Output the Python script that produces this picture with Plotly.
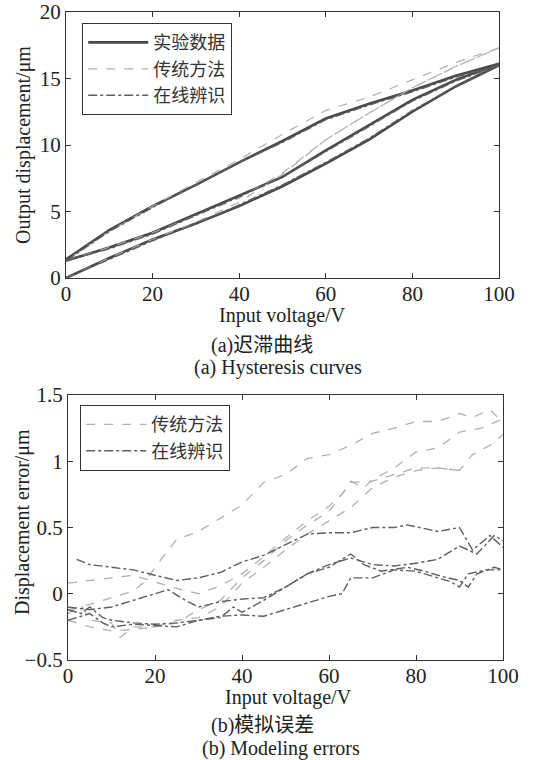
import plotly.graph_objects as go

# ---------------- data: (a) hysteresis curves ----------------
volt_up = [0, 10, 20, 30, 40, 50, 60, 70, 80, 90, 100]
volt_down = [100, 90, 80, 70, 60, 50, 40, 30, 20, 10, 0]

exp_init = [0.0, 1.5, 2.9, 4.1, 5.4, 6.9, 8.6, 10.4, 12.5, 14.4, 16.0]
exp_desc = [16.1, 15.2, 14.1, 13.1, 12.0, 10.3, 8.7, 7.0, 5.4, 3.6, 1.4]
exp_asc = [1.3, 2.3, 3.4, 4.8, 6.2, 7.6, 9.6, 11.5, 13.4, 14.9, 16.1]

trad_init = [0.0, 1.5, 2.9, 4.2, 5.7, 7.8, 10.4, 12.4, 14.3, 15.9, 17.3]
trad_desc = [17.3, 16.2, 14.9, 13.6, 12.6, 10.8, 8.9, 7.2, 5.4, 3.5, 1.3]
trad_asc = [1.3, 2.3, 3.4, 4.7, 6.0, 7.9, 10.4, 12.4, 14.3, 15.9, 17.3]

onl_init = [0.0, 1.4, 2.8, 4.1, 5.5, 7.0, 8.7, 10.5, 12.6, 14.4, 16.0]
onl_desc = [16.0, 15.1, 14.0, 13.0, 11.9, 10.2, 8.7, 7.0, 5.3, 3.5, 1.3]
onl_asc = [1.3, 2.2, 3.3, 4.7, 6.1, 7.6, 9.5, 11.4, 13.3, 14.8, 16.0]

# ---------------- data: (b) modeling errors ----------------
trad_v1 = [0, 5, 10, 15, 18, 20, 25, 30, 35, 40, 45, 50, 55, 60, 65, 70, 75, 80, 85, 90, 93, 97, 100]
trad_e1 = [-0.12, -0.08, -0.03, 0.02, 0.1, 0.2, 0.41, 0.47, 0.57, 0.67, 0.84, 0.9, 1.02, 1.05, 1.12, 1.21, 1.25, 1.30, 1.30, 1.36, 1.33, 1.39, 1.29]
trad_v2 = [0, 5, 10, 15, 20, 25, 30, 35, 40, 45, 50, 55, 60, 63, 65, 68, 70, 75, 80, 85, 90, 95, 100]
trad_e2 = [0.08, 0.1, 0.12, 0.14, 0.09, 0.04, 0.0, 0.06, 0.15, 0.28, 0.42, 0.55, 0.66, 0.75, 0.85, 0.8, 0.86, 0.95, 1.07, 1.1, 1.22, 1.25, 1.32]
trad_v3 = [0, 3, 5, 10, 12, 15, 20, 25, 30, 35, 40, 45, 50, 55, 60, 65, 70, 75, 80, 85, 90, 93, 97, 100]
trad_e3 = [-0.15, -0.08, -0.2, -0.22, -0.33, -0.25, -0.25, -0.22, -0.12, -0.05, 0.12, 0.25, 0.4, 0.52, 0.62, 0.84, 0.85, 0.9, 0.95, 0.95, 0.93, 1.05, 1.12, 1.2]
trad_v4 = [0, 5, 10, 15, 20, 25, 30, 35, 40, 45, 50, 55, 60, 65, 70, 75, 80, 85, 90]
trad_e4 = [-0.2, -0.25, -0.28, -0.27, -0.25, -0.2, -0.18, -0.1, 0.08, 0.2, 0.33, 0.45, 0.55, 0.65, 0.8, 0.88, 0.93, 0.95, 0.93]

onl_v1 = [2, 5, 10, 15, 20, 25, 30, 35, 40, 45, 50, 55, 60, 65, 70, 75, 78, 85, 90, 93, 97, 100]
onl_e1 = [0.26, 0.22, 0.2, 0.18, 0.14, 0.1, 0.12, 0.16, 0.24, 0.29, 0.37, 0.45, 0.46, 0.46, 0.5, 0.5, 0.52, 0.47, 0.5, 0.33, 0.44, 0.35]
onl_v2 = [0, 5, 10, 15, 20, 23, 27, 30, 35, 40, 45, 50, 55, 60, 65, 70, 75, 80, 85, 90, 94, 98, 100]
onl_e2 = [-0.1, -0.12, -0.1, -0.05, 0.0, 0.03, -0.05, -0.1, -0.06, -0.04, -0.03, 0.05, 0.15, 0.22, 0.27, 0.22, 0.21, 0.23, 0.26, 0.36, 0.3, 0.44, 0.4]
onl_v3 = [0, 3, 5, 8, 10, 15, 20, 25, 30, 35, 40, 45, 50, 55, 60, 63, 65, 70, 75, 80, 85, 88, 90, 92, 96, 100]
onl_e3 = [-0.12, -0.15, -0.1, -0.18, -0.2, -0.22, -0.23, -0.22, -0.2, -0.17, -0.16, -0.17, -0.12, -0.07, -0.02, 0.0, 0.12, 0.12, 0.18, 0.17, 0.12, 0.09, 0.05, 0.15, 0.18, 0.18]
onl_v4 = [0, 5, 8, 10, 15, 20, 25, 30, 35, 38, 40, 45, 50, 55, 60, 65, 68, 72, 78, 82, 86, 90, 92, 94, 98, 100]
onl_e4 = [-0.2, -0.15, -0.22, -0.25, -0.23, -0.24, -0.25, -0.2, -0.18, -0.1, -0.14, -0.05, 0.05, 0.15, 0.2, 0.3, 0.22, 0.17, 0.2, 0.17, 0.13, 0.1, 0.05, 0.15, 0.2, 0.18]

legend_a = ["实验数据", "传统方法", "在线辨识"]
x_title = "Input voltage/V"
y_titles = ["Output displacement/μm", "Displacement error/μm"]
captions = ["(a)迟滞曲线", "(a) Hysteresis curves", "(b)模拟误差", "(b) Modeling errors"]

SERIF = "Liberation Serif, Times New Roman, Noto Sans CJK SC, serif"
LEG_FONT = "Noto Sans CJK SC, Liberation Serif"

def join(*parts):
    xs, ys = [], []
    for px, py in parts:
        if xs:
            xs.append(None); ys.append(None)
        xs += list(px); ys += list(py)
    return xs, ys

fig = go.Figure()

C_EXP = "#4a4a4a"
C_TRAD = "#b0b0b0"
C_ONL = "#5e5e5e"

# (a)
x, y = join((volt_up, exp_init), (volt_down, exp_desc), (volt_up, exp_asc))
fig.add_trace(go.Scatter(x=x, y=y, mode="lines", name=legend_a[0],
                         line=dict(color=C_EXP, width=2.6), xaxis="x", yaxis="y", legend="legend"))
x, y = join((volt_up, trad_init), (volt_down, trad_desc), (volt_up, trad_asc))
fig.add_trace(go.Scatter(x=x, y=y, mode="lines", name=legend_a[1],
                         line=dict(color=C_TRAD, width=1.2, dash="dash"), xaxis="x", yaxis="y", legend="legend"))
x, y = join((volt_up, onl_init), (volt_down, onl_desc), (volt_up, onl_asc))
fig.add_trace(go.Scatter(x=x, y=y, mode="lines", name=legend_a[2],
                         line=dict(color=C_ONL, width=1.4, dash="dashdot"), xaxis="x", yaxis="y", legend="legend"))

# (b)
x, y = join((trad_v1, trad_e1), (trad_v2, trad_e2), (trad_v3, trad_e3), (trad_v4, trad_e4))
fig.add_trace(go.Scatter(x=x, y=y, mode="lines", name=legend_a[1],
                         line=dict(color=C_TRAD, width=1.3, dash="dash"), xaxis="x2", yaxis="y2", legend="legend2"))
x, y = join((onl_v1, onl_e1), (onl_v2, onl_e2), (onl_v3, onl_e3), (onl_v4, onl_e4))
fig.add_trace(go.Scatter(x=x, y=y, mode="lines", name=legend_a[2],
                         line=dict(color=C_ONL, width=1.4, dash="dashdot"), xaxis="x2", yaxis="y2", legend="legend2"))

W, H = 535, 760
def xd(a, b): return [a / W, b / W]
def yd(top, bot): return [1 - bot / H, 1 - top / H]

TF = dict(family=SERIF, size=20, color="#222")
axis_common = dict(showline=True, linecolor="#333", linewidth=1.3, mirror="allticks",
                   ticks="inside", ticklen=5, tickcolor="#333", showgrid=False, zeroline=False,
                   automargin=False,
                   tickfont=dict(family=SERIF, size=21, color="#222"))

fig.update_layout(
    width=W, height=H, margin=dict(l=0, r=0, t=0, b=0, autoexpand=False),
    paper_bgcolor="white", plot_bgcolor="white",
    xaxis=dict(domain=xd(66, 499), range=[0, 100], tickvals=[0, 20, 40, 60, 80, 100], anchor="y",
               ticklabelstandoff=-3, **axis_common),
    yaxis=dict(domain=yd(12, 278), range=[0, 20], tickvals=[0, 5, 10, 15, 20], anchor="x",
               **axis_common),
    xaxis2=dict(domain=xd(68, 503), range=[0, 100], tickvals=[0, 20, 40, 60, 80, 100], anchor="y2",
                ticklabelstandoff=-3, **axis_common),
    yaxis2=dict(domain=yd(395, 660), range=[-0.5, 1.5], tickvals=[-0.5, 0, 0.5, 1, 1.5],
                ticktext=["−0.5", "0", "0.5", "1", "1.5"], anchor="x2",
                **axis_common),
    legend=dict(x=82 / W, y=1 - 23 / H, xanchor="left", yanchor="top", bgcolor="white",
                bordercolor="#333", borderwidth=1.2, font=dict(family=LEG_FONT, size=18, color="#333"),
                itemwidth=60, tracegroupgap=0),
    legend2=dict(x=80 / W, y=1 - 405 / H, xanchor="left", yanchor="top", bgcolor="white",
                 bordercolor="#333", borderwidth=1.2, font=dict(family=LEG_FONT, size=18, color="#333"),
                 itemwidth=60, tracegroupgap=0),
    showlegend=True,
)

# x-axis titles
for cx, cy in [(282, 315), (288, 697)]:
    fig.add_annotation(text=x_title, x=cx / W, y=1 - cy / H, xref="paper", yref="paper",
                       showarrow=False, xanchor="center", yanchor="middle", font=TF)
# y-axis titles
for text, (cx, cy) in zip(y_titles, [(23, 145), (22, 522)]):
    fig.add_annotation(text=text, x=cx / W, y=1 - cy / H, xref="paper", yref="paper",
                       showarrow=False, xanchor="center", yanchor="middle", textangle=-90, font=TF)

cap_pos = [(262, 345), (278, 368), (262, 725), (281, 748)]
for text, (cx, cy) in zip(captions, cap_pos):
    fig.add_annotation(text=text, x=cx / W, y=1 - cy / H, xref="paper", yref="paper",
                       showarrow=False, xanchor="center", yanchor="middle",
                       font=dict(family=SERIF, size=20, color="#222"))

fig.write_html("out.html")
